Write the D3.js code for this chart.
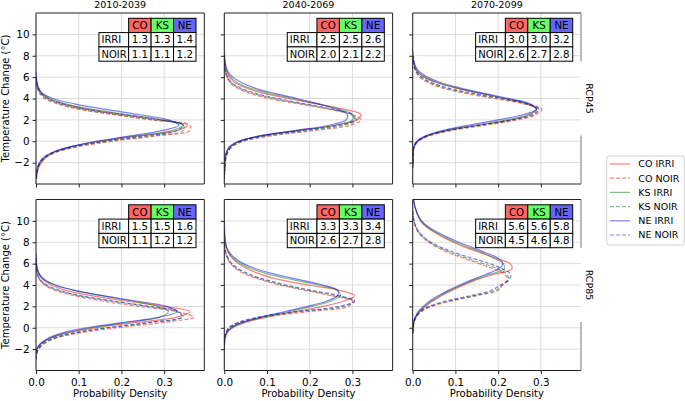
<!DOCTYPE html>
<html><head><meta charset="utf-8">
<script src="https://cdn.jsdelivr.net/npm/d3@7"></script>
<style>body{margin:0;background:#fff} svg{display:block} text{font-family:"DejaVu Sans",sans-serif;fill:#000}</style>
</head><body><svg id="c" width="685" height="401"></svg>
<script>
const periods = ["2010-2039","2040-2069","2070-2099"];
const scenarios = ["RCP45","RCP85"];
const regions = ["CO","KS","NE"];
const treatments = ["IRRI","NOIR"];
const seriesNames = ["CO IRRI","CO NOIR","KS IRRI","KS NOIR","NE IRRI","NE NOIR"];
const xTicks = [0,0.1,0.2,0.3];
const yTicks = [-2,0,2,4,6,8,10];

// table means, rows = period, columns = CO, KS, NE
const meanIRRI_rcp45 = [[1.3,1.3,1.4],[2.5,2.5,2.6],[3.0,3.0,3.2]];
const meanNOIR_rcp45 = [[1.1,1.1,1.2],[2.0,2.1,2.2],[2.6,2.7,2.8]];
const meanIRRI_rcp85 = [[1.5,1.5,1.6],[3.3,3.3,3.4],[5.6,5.6,5.8]];
const meanNOIR_rcp85 = [[1.1,1.2,1.2],[2.6,2.7,2.8],[4.5,4.6,4.8]];

// density curves (order: CO IRRI, CO NOIR, KS IRRI, KS NOIR, NE IRRI, NE NOIR)
const temps_45_2010 = [-3.5,-3,-2.5,-2,-1.5,-1,-0.5,0,0.5,1,1.5,2,2.5,3,3.5,4,4.5,5,5.5,6,6.5];
const dens_45_2010 = [
 [0.001,0.003,0.006,0.013,0.025,0.045,0.085,0.15,0.24,0.33,0.355,0.29,0.2,0.12,0.065,0.03,0.012,0.005,0.002,0,0],
 [0,0.001,0.003,0.01,0.022,0.05,0.1,0.18,0.28,0.36,0.36,0.27,0.18,0.1,0.05,0.02,0.008,0.003,0.001,0,0],
 [0,0.002,0.005,0.011,0.022,0.043,0.083,0.148,0.235,0.318,0.345,0.3,0.215,0.13,0.07,0.033,0.013,0.005,0.002,0,0],
 [0,0.002,0.004,0.01,0.021,0.047,0.095,0.17,0.27,0.345,0.345,0.275,0.185,0.105,0.055,0.024,0.01,0.004,0.001,0,0],
 [0,0.001,0.003,0.008,0.018,0.04,0.08,0.14,0.22,0.295,0.335,0.31,0.24,0.16,0.09,0.04,0.015,0.006,0.002,0.001,0],
 [0,0.002,0.004,0.009,0.019,0.043,0.088,0.16,0.255,0.33,0.345,0.29,0.2,0.115,0.06,0.027,0.011,0.004,0.001,0,0]
];
const temps_45_2040 = [-3.5,-3,-2.5,-2,-1.5,-1,-0.5,0,0.5,1,1.5,2,2.5,3,3.5,4,4.5,5,5.5,6,6.5,7,7.5,8,8.5];
const dens_45_2040 = [
 [0,0.0005,0.001,0.001,0.003,0.006,0.014,0.035,0.085,0.17,0.26,0.31,0.32,0.28,0.215,0.15,0.09,0.05,0.025,0.012,0.005,0.002,0.001,0,0],
 [0,0,0.001,0.002,0.004,0.008,0.018,0.045,0.11,0.21,0.295,0.32,0.3,0.245,0.175,0.105,0.058,0.029,0.013,0.006,0.002,0.001,0,0,0],
 [0,0.0005,0.001,0.001,0.002,0.005,0.012,0.033,0.085,0.175,0.26,0.3,0.3,0.27,0.22,0.162,0.103,0.058,0.03,0.015,0.007,0.003,0.001,0,0],
 [0,0,0.001,0.002,0.004,0.008,0.018,0.042,0.1,0.195,0.28,0.31,0.295,0.245,0.18,0.115,0.065,0.033,0.015,0.007,0.003,0.001,0,0,0],
 [0,0.0005,0.001,0.001,0.002,0.005,0.013,0.035,0.083,0.165,0.245,0.285,0.288,0.262,0.22,0.17,0.115,0.07,0.04,0.02,0.009,0.004,0.002,0.001,0],
 [0,0,0.001,0.002,0.004,0.008,0.016,0.038,0.09,0.18,0.27,0.305,0.3,0.255,0.19,0.125,0.072,0.037,0.017,0.008,0.003,0.001,0,0,0]
];
const temps_45_2070 = [-2.5,-2,-1.5,-1,-0.5,0,0.5,1,1.5,2,2.5,3,3.5,4,4.5,5,5.5,6,6.5,7,7.5,8,8.5];
const dens_45_2070 = [
 [0,0.0005,0.0008,0.001,0.004,0.012,0.035,0.08,0.155,0.23,0.275,0.29,0.265,0.215,0.155,0.1,0.055,0.027,0.012,0.005,0.002,0,0],
 [0,0,0.0005,0.001,0.004,0.013,0.04,0.09,0.17,0.245,0.29,0.302,0.26,0.19,0.12,0.068,0.035,0.016,0.007,0.003,0.001,0,0],
 [0,0.0005,0.0008,0.001,0.003,0.011,0.032,0.075,0.145,0.22,0.27,0.29,0.27,0.218,0.158,0.102,0.058,0.028,0.012,0.005,0.002,0,0],
 [0,0,0.0005,0.001,0.003,0.011,0.035,0.085,0.16,0.235,0.285,0.295,0.265,0.2,0.13,0.075,0.04,0.019,0.008,0.003,0.001,0,0],
 [0,0.0005,0.0008,0.001,0.003,0.01,0.03,0.07,0.13,0.2,0.26,0.29,0.275,0.225,0.165,0.11,0.065,0.035,0.016,0.007,0.003,0.001,0],
 [0,0,0.0005,0.001,0.003,0.01,0.032,0.08,0.155,0.23,0.28,0.295,0.27,0.21,0.14,0.082,0.044,0.021,0.009,0.004,0.001,0,0]
];
const temps_85_2010 = [-3.5,-3,-2.5,-2,-1.5,-1,-0.5,0,0.5,1,1.5,2,2.5,3,3.5,4,4.5,5,5.5,6,6.5,7];
const dens_85_2010 = [
 [0,0,0,0.002,0.011,0.03,0.07,0.14,0.235,0.33,0.36,0.3,0.21,0.13,0.07,0.035,0.016,0.007,0.003,0.001,0,0],
 [0,0,0.001,0.006,0.019,0.045,0.1,0.19,0.3,0.37,0.33,0.24,0.155,0.09,0.045,0.02,0.008,0.003,0.001,0,0,0],
 [0,0,0,0.002,0.012,0.033,0.07,0.13,0.215,0.29,0.31,0.285,0.225,0.155,0.09,0.045,0.02,0.008,0.003,0.001,0,0],
 [0,0,0.001,0.006,0.018,0.042,0.09,0.17,0.27,0.345,0.33,0.26,0.175,0.1,0.05,0.022,0.009,0.003,0.001,0,0,0],
 [0,0,0,0.002,0.01,0.027,0.06,0.12,0.205,0.29,0.33,0.305,0.235,0.155,0.09,0.045,0.02,0.008,0.003,0.001,0.001,0],
 [0,0,0.001,0.005,0.015,0.038,0.085,0.165,0.265,0.34,0.335,0.265,0.18,0.105,0.055,0.025,0.01,0.004,0.001,0,0,0]
];
const temps_85_2040 = [-2,-1.5,-1,-0.5,0,0.5,1,1.5,2,2.5,3,3.5,4,4.5,5,5.5,6,6.5,7,7.5,8,8.5,9,9.5,10];
const dens_85_2040 = [
 [0,0.0005,0.002,0.006,0.02,0.05,0.1,0.165,0.23,0.28,0.305,0.27,0.195,0.13,0.085,0.055,0.033,0.019,0.01,0.005,0.002,0.001,0,0,0],
 [0,0,0.001,0.004,0.013,0.04,0.095,0.195,0.29,0.3,0.25,0.19,0.13,0.085,0.05,0.028,0.015,0.007,0.003,0.001,0,0,0,0,0],
 [0,0.0005,0.001,0.005,0.017,0.045,0.09,0.15,0.205,0.25,0.272,0.265,0.22,0.16,0.105,0.065,0.038,0.021,0.011,0.005,0.002,0.001,0,0,0],
 [0,0,0.001,0.004,0.012,0.036,0.088,0.175,0.28,0.305,0.26,0.195,0.135,0.09,0.055,0.031,0.016,0.008,0.003,0.001,0,0,0,0,0],
 [0,0.0005,0.001,0.005,0.016,0.042,0.085,0.14,0.195,0.24,0.265,0.265,0.23,0.175,0.12,0.075,0.045,0.025,0.013,0.006,0.003,0.001,0.001,0.0005,0],
 [0,0,0.001,0.003,0.01,0.032,0.08,0.165,0.27,0.305,0.27,0.205,0.145,0.097,0.06,0.034,0.018,0.009,0.004,0.001,0,0,0,0,0]
];
const temps_85_2070 = [-0.5,0,0.5,1,1.5,2,2.5,3,3.5,4,4.5,5,5.5,6,6.5,7,7.5,8,8.5,9,9.5,10,10.5,11,11.5,12];
const dens_85_2070 = [
 [0,0.001,0.003,0.008,0.016,0.03,0.047,0.068,0.092,0.12,0.15,0.19,0.232,0.228,0.195,0.16,0.125,0.095,0.07,0.048,0.03,0.018,0.012,0.008,0.004,0.002],
 [0,0.001,0.003,0.008,0.02,0.045,0.09,0.15,0.2,0.21,0.222,0.215,0.19,0.155,0.12,0.085,0.058,0.037,0.022,0.012,0.006,0.003,0.001,0,0,0],
 [0,0.001,0.003,0.007,0.015,0.028,0.044,0.064,0.088,0.115,0.145,0.18,0.214,0.212,0.19,0.165,0.132,0.1,0.073,0.05,0.032,0.019,0.012,0.007,0.004,0.002],
 [0,0.001,0.003,0.008,0.019,0.042,0.085,0.145,0.195,0.21,0.225,0.22,0.2,0.165,0.128,0.092,0.063,0.04,0.024,0.013,0.007,0.003,0.001,0,0,0],
 [0,0.001,0.002,0.006,0.013,0.025,0.04,0.06,0.083,0.11,0.14,0.172,0.2,0.211,0.2,0.172,0.14,0.108,0.08,0.055,0.035,0.021,0.013,0.008,0.004,0.002],
 [0,0.001,0.002,0.007,0.017,0.038,0.078,0.135,0.185,0.205,0.225,0.23,0.21,0.18,0.14,0.1,0.068,0.043,0.026,0.014,0.007,0.003,0.001,0,0,0]
];

const panelTemps = [[temps_45_2010,temps_45_2040,temps_45_2070],[temps_85_2010,temps_85_2040,temps_85_2070]];
const panelDens = [[dens_45_2010,dens_45_2040,dens_45_2070],[dens_85_2010,dens_85_2040,dens_85_2070]];
const tableIRRI = [meanIRRI_rcp45, meanIRRI_rcp85];
const tableNOIR = [meanNOIR_rcp45, meanNOIR_rcp85];

const lineColors = {CO:"#ff0000", KS:"#008000", NE:"#0000ff"};
const headColors = {CO:"#ff6666", KS:"#66ff66", NE:"#6666ff"};

const svg = d3.select("#c");
const colLeft = [36, 224.3, 412.7], pw = 168.3, rowTop = [13, 199.5], ph = 171;
const x = d3.scaleLinear().domain([0, 0.394]).range([0, pw]);
const y = d3.scaleLinear().domain([-4, 12]).range([ph, 0]);
const line = d3.line().x(d => x(d[1])).y(d => y(d[0])).curve(d3.curveCatmullRom.alpha(0.5));

const defs = svg.append("defs");
defs.append("clipPath").attr("id","pclip").append("rect").attr("width",pw).attr("height",ph);

const tickFont = 10.4;

scenarios.forEach((sc, r) => {
  periods.forEach((pe, c) => {
    const g = svg.append("g").attr("transform", `translate(${colLeft[c]},${rowTop[r]})`);
    // grid
    g.append("g").selectAll("line").data(xTicks).join("line")
      .attr("x1", d => x(d)).attr("x2", d => x(d)).attr("y1", 0).attr("y2", ph)
      .attr("stroke", "#dcdcdc").attr("stroke-width", 1);
    g.append("g").selectAll("line").data(yTicks).join("line")
      .attr("y1", d => y(d)).attr("y2", d => y(d)).attr("x1", 0).attr("x2", pw)
      .attr("stroke", "#dcdcdc").attr("stroke-width", 1);
    // curves
    const temps = panelTemps[r][c];
    const cg = g.append("g").attr("clip-path", "url(#pclip)");
    panelDens[r][c].forEach((vals, i) => {
      const name = seriesNames[i];
      const reg = name.split(" ")[0], tr = name.split(" ")[1];
      let first = vals.findIndex(v => v > 0), last = vals.length - 1;
      while (last > 0 && vals[last] === 0) last--;
      first = Math.max(0, first - 1); last = Math.min(vals.length - 1, last + 1);
      const pts = [];
      for (let k = first; k <= last; k++) pts.push([temps[k], vals[k]]);
      cg.append("path").attr("d", line(pts)).attr("fill", "none")
        .attr("stroke", lineColors[reg]).attr("stroke-opacity", 0.5).attr("stroke-width", 1.2)
        .attr("stroke-dasharray", tr === "NOIR" ? "4,2" : null);
    });
    // axes
    const ay = d3.axisLeft(y).tickValues(yTicks).tickSize(3.5).tickPadding(3)
      .tickFormat(c === 0 ? (d => d < 0 ? "\u2212" + Math.abs(d) : String(d)) : () => "");
    const ayg = g.append("g").call(ay);
    ayg.select(".domain").remove();
    ayg.selectAll("text").attr("font-size", tickFont).attr("font-family", "DejaVu Sans");
    ayg.selectAll("line").attr("stroke", "#222");
    const ax = d3.axisBottom(x).tickValues(xTicks).tickSize(3.5).tickPadding(4.2)
      .tickFormat(r === 1 ? d3.format(".1f") : () => "");
    const axg = g.append("g").attr("transform", `translate(0,${ph})`).call(ax);
    axg.select(".domain").remove();
    axg.selectAll("text").attr("font-size", tickFont).attr("font-family", "DejaVu Sans");
    axg.selectAll("line").attr("stroke", "#222");
    // spines
    const sp = "#222";
    g.append("line").attr("x1",0).attr("x2",pw).attr("y1",0).attr("y2",0).attr("stroke",sp);
    g.append("line").attr("x1",0).attr("x2",pw).attr("y1",ph).attr("y2",ph).attr("stroke",sp);
    g.append("line").attr("x1",0).attr("x2",0).attr("y1",0).attr("y2",ph).attr("stroke",sp);
    if (c < 2) {
      g.append("line").attr("x1",pw).attr("x2",pw).attr("y1",0).attr("y2",ph).attr("stroke",sp);
    } else {
      const mid = ph / 2;
      g.append("line").attr("x1",pw).attr("x2",pw).attr("y1",0).attr("y2",mid - 37).attr("stroke","#777");
      g.append("line").attr("x1",pw).attr("x2",pw).attr("y1",mid + 37).attr("y2",ph).attr("stroke","#777");
      g.append("text").attr("transform", `translate(${pw + 8},${mid}) rotate(90)`)
        .attr("text-anchor","middle").attr("dy","0.35em").attr("font-size",9.5).text(sc);
    }
    // table
    const cw0 = 29.7, cw = 22.45, rh = 14.3;
    const tRight = pw - 8.3, tTop = 5.3;
    const tLeft = tRight - cw0 - 3 * cw;
    const tg = g.append("g").attr("transform", `translate(${tLeft},${tTop})`);
    regions.forEach((rg, j) => {
      const cx = cw0 + j * cw;
      tg.append("rect").attr("x", cx).attr("y", 0).attr("width", cw).attr("height", rh)
        .attr("fill", headColors[rg]).attr("stroke", "#000").attr("stroke-width", 1);
      tg.append("text").attr("x", cx + cw / 2).attr("y", rh / 2).attr("dy", "0.36em")
        .attr("text-anchor", "middle").attr("font-size", 10.2).text(rg);
    });
    treatments.forEach((tr, k) => {
      const ry = rh * (k + 1);
      const vals = (tr === "IRRI" ? tableIRRI : tableNOIR)[r][c];
      tg.append("rect").attr("x", 0).attr("y", ry).attr("width", cw0).attr("height", rh)
        .attr("fill", "#fff").attr("stroke", "#000").attr("stroke-width", 1);
      tg.append("text").attr("x", 2.5).attr("y", ry + rh / 2).attr("dy", "0.36em")
        .attr("font-size", 10).text(tr);
      vals.forEach((v, j) => {
        const cx = cw0 + j * cw;
        tg.append("rect").attr("x", cx).attr("y", ry).attr("width", cw).attr("height", rh)
          .attr("fill", "#fff").attr("stroke", "#000").attr("stroke-width", 1);
        tg.append("text").attr("x", cx + cw / 2).attr("y", ry + rh / 2).attr("dy", "0.36em")
          .attr("text-anchor", "middle").attr("font-size", 10.3).text(v.toFixed(1));
      });
    });
    // titles / labels
    if (r === 0) {
      svg.append("text").attr("x", colLeft[c] + pw / 2).attr("y", 7.8)
        .attr("text-anchor", "middle").attr("font-size", 9.5).text(pe);
    }
    if (r === 1) {
      svg.append("text").attr("x", colLeft[c] + pw / 2).attr("y", 397)
        .attr("text-anchor", "middle").attr("font-size", 10).text("Probability Density");
    }
    if (c === 0) {
      svg.append("text").attr("transform", `translate(8.8,${rowTop[r] + ph / 2}) rotate(-90)`)
        .attr("text-anchor", "middle").attr("font-size", 10).text("Temperature Change (\u00B0C)");
    }
  });
});

// legend
const lg = svg.append("g").attr("transform", "translate(606.7,156)");
lg.append("rect").attr("width", 77.6).attr("height", 89).attr("rx", 2.5)
  .attr("fill", "#fff").attr("stroke", "#d0d0d0").attr("stroke-width", 1);
seriesNames.forEach((name, i) => {
  const reg = name.split(" ")[0], tr = name.split(" ")[1];
  const yy = 8 + i * 14.2;
  lg.append("line").attr("x1", 3.3).attr("x2", 23.3).attr("y1", yy).attr("y2", yy)
    .attr("stroke", lineColors[reg]).attr("stroke-opacity", 0.5).attr("stroke-width", 1.2)
    .attr("stroke-dasharray", tr === "NOIR" ? "4,2" : null);
  lg.append("text").attr("x", 31.6).attr("y", yy).attr("dy", "0.35em")
    .attr("font-size", 9.5).text(name);
});
</script></body></html>
